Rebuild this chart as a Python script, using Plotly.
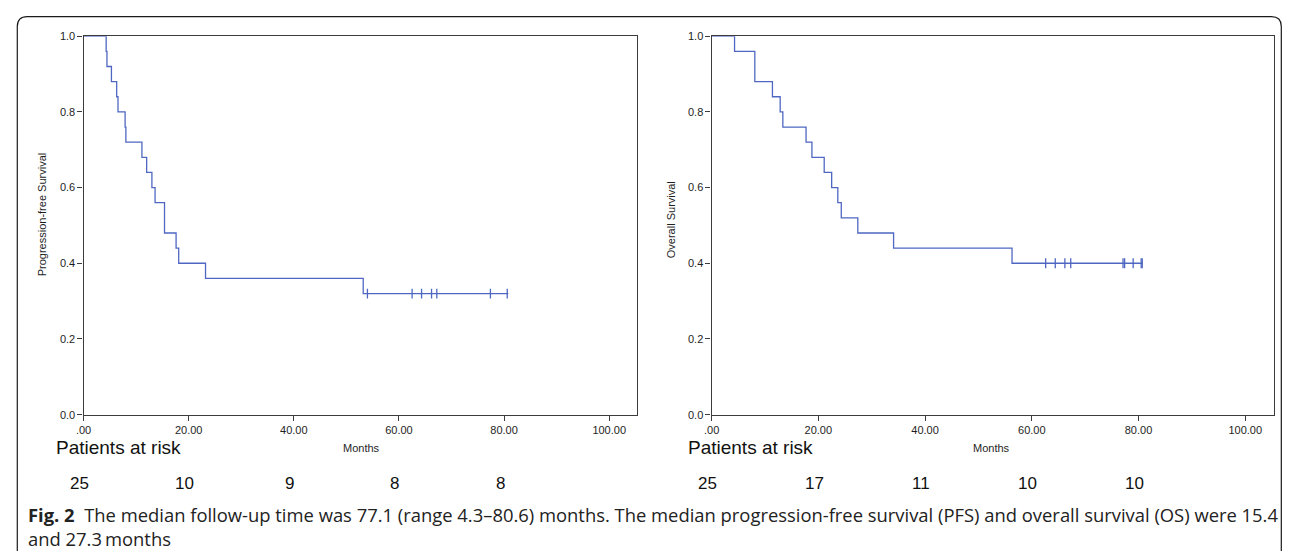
import plotly.graph_objects as go

# The page keeps the browser's default 8px body margin, so the figure is
# drawn 16px smaller and every layout position is given relative to the window.
WIN_W, WIN_H = 1290, 559
OFF = 8
W, H = WIN_W - 2 * OFF, WIN_H - 2 * OFF

# ---------------- data ----------------
pfs_times = [0, 4.3, 4.45, 5.3, 6.3, 6.55, 7.9, 8.05, 11.1, 12.0, 13.0, 13.6, 15.4, 17.6, 18.1, 23.2, 53.2, 80.8]
pfs_surv = [1.0, 0.96, 0.92, 0.88, 0.84, 0.80, 0.76, 0.72, 0.68, 0.64, 0.60, 0.56, 0.48, 0.44, 0.40, 0.36, 0.32, 0.32]
pfs_censor_times = [54.0, 62.5, 64.3, 66.2, 67.2, 77.4, 80.6]
pfs_censor_surv = [0.32] * len(pfs_censor_times)

os_times = [0, 4.3, 8.1, 11.4, 12.85, 13.35, 17.7, 18.8, 21.1, 22.5, 23.65, 24.3, 27.4, 34.1, 56.3, 80.8]
os_surv = [1.0, 0.96, 0.88, 0.84, 0.80, 0.76, 0.72, 0.68, 0.64, 0.60, 0.56, 0.52, 0.48, 0.44, 0.40, 0.40]
os_censor_times = [62.6, 64.4, 66.2, 67.3, 77.1, 77.4, 79.0, 80.5, 80.7]
os_censor_surv = [0.40] * len(os_censor_times)

risk_months = [0, 20, 40, 60, 80]
pfs_at_risk = ["25", "10", "9", "8", "8"]
os_at_risk = ["25", "17", "11", "10", "10"]

x_tickvals = [0, 20, 40, 60, 80, 100]
x_ticktext = [".00", "20.00", "40.00", "60.00", "80.00", "100.00"]
y_tickvals = [0.0, 0.2, 0.4, 0.6, 0.8, 1.0]
y_ticktext = ["0.0", "0.2", "0.4", "0.6", "0.8", "1.0"]

caption_bold = "Fig. 2"
caption_line1 = ("The median follow-up time was 77.1 (range 4.3–80.6) months. The median "
                 "progression-free survival (PFS) and overall survival (OS) were 15.4")
caption_line2 = "and 27.3\u2009months"

# ---------------- styling ----------------
LINE_COLOR = "#4f67c2"
AX_COLOR = "#3c3c3c"
AX_FONT = dict(family="Liberation Sans, Arial, sans-serif", size=11, color="#1e1e1e")


def px(x):
    """window pixel x -> paper coordinate"""
    return (x - OFF) / W


def py(y):
    """window pixel y -> paper coordinate"""
    return 1 - (y - OFF) / H


fig = go.Figure()

for xa, ya, t, s, ct, cs in [
    ("x", "y", pfs_times, pfs_surv, pfs_censor_times, pfs_censor_surv),
    ("x2", "y2", os_times, os_surv, os_censor_times, os_censor_surv),
]:
    fig.add_trace(go.Scatter(x=t, y=s, mode="lines", line=dict(color=LINE_COLOR, width=1.3, shape="hv"),
                             xaxis=xa, yaxis=ya, showlegend=False, hoverinfo="skip"))
    fig.add_trace(go.Scatter(x=ct, y=cs, mode="markers",
                             marker=dict(symbol="line-ns", size=7, line=dict(color=LINE_COLOR, width=1.3)),
                             xaxis=xa, yaxis=ya, showlegend=False, hoverinfo="skip"))

left_dom = [px(76), px(633)]
right_dom = [px(708), px(1274)]
y_dom = [py(417.7), py(30.7)]

axis_common = dict(showgrid=False, zeroline=False, showline=True, mirror=True, linecolor=AX_COLOR,
                   linewidth=1.3, ticks="outside", ticklen=5, tickwidth=1, tickcolor=AX_COLOR,
                   tickfont=AX_FONT, fixedrange=True)

fig.update_layout(
    width=W, height=H,
    margin=dict(l=0, r=0, t=0, b=0),
    paper_bgcolor="white", plot_bgcolor="white",
    xaxis=dict(domain=left_dom, range=[0, 105.3], tickvals=x_tickvals, ticktext=x_ticktext, anchor="y",
               **axis_common),
    yaxis=dict(domain=y_dom, range=[0, 1], tickvals=y_tickvals, ticktext=y_ticktext, anchor="x",
               **axis_common),
    xaxis2=dict(domain=right_dom, range=[0, 105.4], tickvals=x_tickvals, ticktext=x_ticktext, anchor="y2",
                **axis_common),
    yaxis2=dict(domain=y_dom, range=[0, 1], tickvals=y_tickvals, ticktext=y_ticktext, anchor="x2",
                **axis_common),
)

annotations = []
annotations.append(dict(text="Progression-free Survival", x=px(35), y=py(213), xref="paper", yref="paper",
                        textangle=-90, showarrow=False, font=AX_FONT, xanchor="center", yanchor="middle"))
annotations.append(dict(text="Overall Survival", x=px(667), y=py(218), xref="paper", yref="paper",
                        textangle=-90, showarrow=False, font=AX_FONT, xanchor="center", yanchor="middle"))
annotations.append(dict(text="Months", x=px(356), y=py(452), xref="paper", yref="paper", showarrow=False,
                        font=AX_FONT, xanchor="center", yanchor="middle"))
annotations.append(dict(text="Months", x=px(990), y=py(452), xref="paper", yref="paper", showarrow=False,
                        font=AX_FONT, xanchor="center", yanchor="middle"))

RISK_FONT = dict(family="Liberation Sans, Arial, sans-serif", size=19, color="#111111")
annotations.append(dict(text="Patients at risk", x=px(46), y=py(451), xref="paper", yref="paper",
                        showarrow=False, font=RISK_FONT, xanchor="left", yanchor="middle"))
annotations.append(dict(text="Patients at risk", x=px(682), y=py(451), xref="paper", yref="paper",
                        showarrow=False, font=RISK_FONT, xanchor="left", yanchor="middle"))

NUM_FONT = dict(family="Liberation Sans, Arial, sans-serif", size=17, color="#111111")
for m, n in zip(risk_months, pfs_at_risk):
    annotations.append(dict(text=n, x=m, xref="x", y=py(488), yref="paper", xshift=-4, showarrow=False,
                            font=NUM_FONT, xanchor="center", yanchor="middle"))
for m, n in zip(risk_months, os_at_risk):
    annotations.append(dict(text=n, x=m, xref="x2", y=py(488), yref="paper", xshift=-4, showarrow=False,
                            font=NUM_FONT, xanchor="center", yanchor="middle"))

CAP_FONT = dict(family="Open Sans, Noto Sans, sans-serif", size=18.4, color="#222222")
annotations.append(dict(text="<b>" + caption_bold + "</b>  " + caption_line1, x=px(18), y=py(520),
                        xref="paper", yref="paper", showarrow=False, font=CAP_FONT,
                        xanchor="left", yanchor="middle"))
annotations.append(dict(text=caption_line2, x=px(18), y=py(544), xref="paper", yref="paper",
                        showarrow=False, font=CAP_FONT, xanchor="left", yanchor="middle"))

fig.update_layout(annotations=annotations)

# outer frame with rounded top corners
r = 10
x0, y0 = 9.3, 10.7
x1 = OFF + W - 0.7
path = (f"M {px(x0)},{py(WIN_H + 20)} L {px(x0)},{py(y0 + r)} "
        f"Q {px(x0)},{py(y0)} {px(x0 + r)},{py(y0)} "
        f"L {px(x1 - r)},{py(y0)} Q {px(x1)},{py(y0)} {px(x1)},{py(y0 + r)} "
        f"L {px(x1)},{py(WIN_H + 20)}")
fig.add_shape(type="path", path=path, xref="paper", yref="paper", line=dict(color="#1a1a1a", width=1.2))

fig.write_html("out.html", config={"displayModeBar": False})
